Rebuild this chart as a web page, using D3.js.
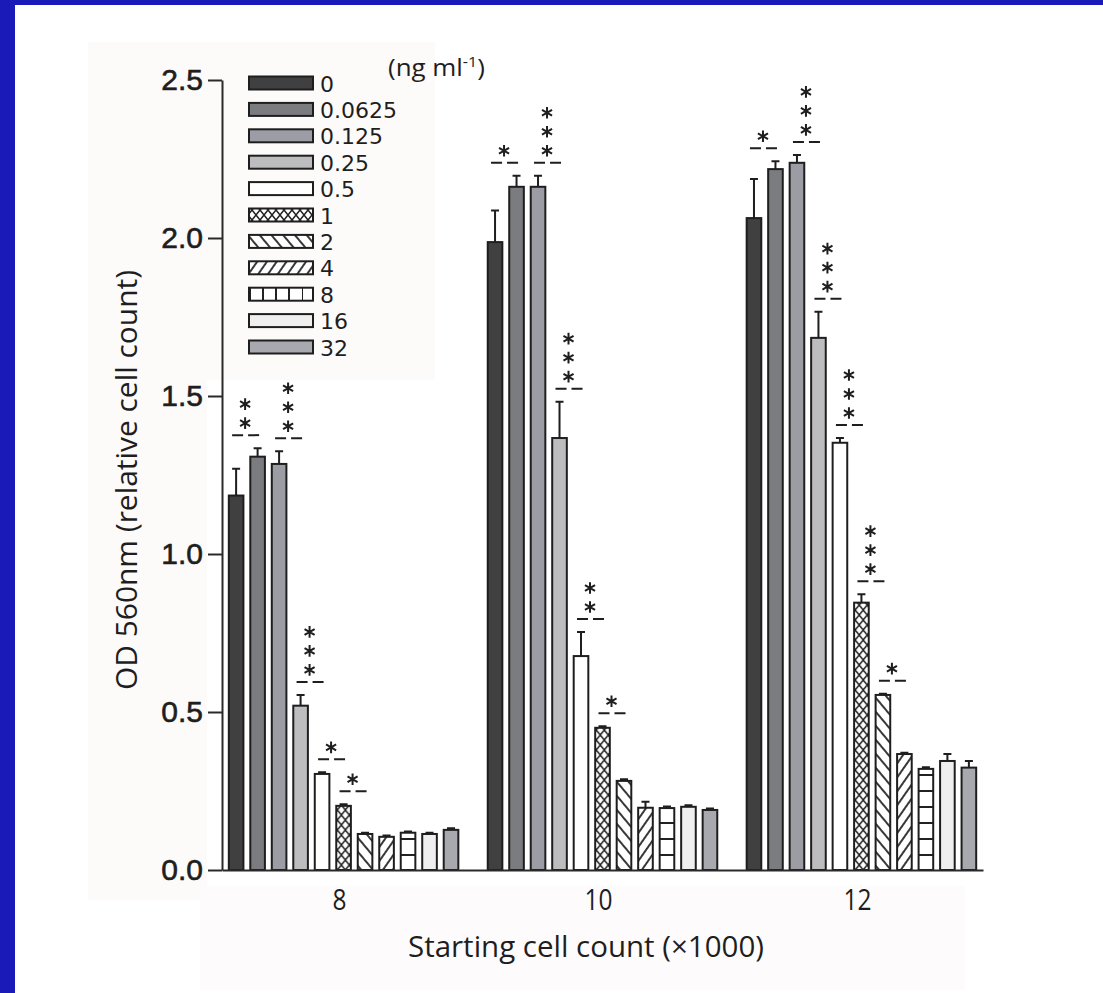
<!DOCTYPE html>
<meta charset="utf-8">
<style>
body { margin: 0; background: #1a1ab8; }
svg { display: block; }
.axis path, .axis line { stroke: #2a2a2a; stroke-width: 2; }
.axis text { fill: #1e1e1e; }
.bar { stroke: #1e1e1e; stroke-width: 2; }
.err, .sig { stroke: #1e1e1e; stroke-width: 2; fill: none; }
</style>
<body>
<svg width="1103" height="993"></svg>
<script src="https://d3js.org/d3.v7.min.js"></script>
<script>

// starting cell count groups (x1000) and doses (ng/ml)
var groups = ["8", "10", "12"];
var doses = ["0", "0.0625", "0.125", "0.25", "0.5", "1", "2", "4", "8", "16", "32"];

// OD 560nm means
var od8  = [1.185, 1.308, 1.285, 0.520, 0.304, 0.203, 0.114, 0.105, 0.118, 0.114, 0.127];
var od10 = [1.987, 2.162, 2.162, 1.367, 0.677, 0.450, 0.282, 0.197, 0.196, 0.200, 0.190];
var od12 = [2.063, 2.218, 2.238, 1.684, 1.352, 0.846, 0.554, 0.367, 0.320, 0.345, 0.324];

// upper error bars
var err8  = [0.085, 0.027, 0.040, 0.034, 0.005, 0.005, 0.004, 0.004, 0.004, 0.004, 0.005];
var err10 = [0.100, 0.035, 0.035, 0.115, 0.076, 0.005, 0.005, 0.019, 0.005, 0.005, 0.005];
var err12 = [0.124, 0.025, 0.025, 0.083, 0.015, 0.027, 0.004, 0.004, 0.005, 0.022, 0.021];

// number of significance stars per bar
var stars8  = [2, 0, 3, 3, 1, 1, 0, 0, 0, 0, 0];
var stars10 = [1, 0, 3, 3, 2, 1, 0, 0, 0, 0, 0];
var stars12 = [1, 0, 3, 3, 3, 3, 1, 0, 0, 0, 0];

var yTicks = [0, 0.5, 1.0, 1.5, 2.0, 2.5];

var means = [od8, od10, od12],
    errs = [err8, err10, err12],
    stars = [stars8, stars10, stars12];

var fills = ["#404040", "#7b7c7f", "#9b9ca4", "#bdbdc0", "#ffffff",
             "url(#cross)", "url(#back)", "url(#fwd)", "url(#hlines)", "#efefef", "#a8a9af"];
var legendFills = fills.slice();
legendFills[8] = "url(#vlines)";

var svg = d3.select("svg");

// slide background + white panel
svg.append("rect").attr("width", 1103).attr("height", 993).attr("fill", "#1a1ab8");
svg.append("rect").attr("x", 15).attr("y", 5).attr("width", 1088).attr("height", 988).attr("fill", "#ffffff");
// faint pasted patches
svg.append("rect").attr("x", 88).attr("y", 42).attr("width", 119).attr("height", 858).attr("fill", "#fdfafa");
svg.append("rect").attr("x", 207).attr("y", 42).attr("width", 228).attr("height", 338).attr("fill", "#fdfafa");
svg.append("rect").attr("x", 200).attr("y", 886).attr("width", 765).attr("height", 104).attr("fill", "#fdfbfb");

// patterns
var defs = svg.append("defs");

var p = defs.append("pattern").attr("id", "cross").attr("patternUnits", "userSpaceOnUse")
    .attr("width", 8).attr("height", 10);
p.append("rect").attr("width", 8).attr("height", 10).attr("fill", "#fff");
p.append("path").attr("d", "M0,0L8,10M8,0L0,10").attr("stroke", "#222").attr("stroke-width", 1.5);

p = defs.append("pattern").attr("id", "back").attr("patternUnits", "userSpaceOnUse")
    .attr("width", 9).attr("height", 9).attr("patternTransform", "rotate(-40)");
p.append("rect").attr("width", 9).attr("height", 9).attr("fill", "#fff");
p.append("line").attr("x1", 4).attr("x2", 4).attr("y1", 0).attr("y2", 9).attr("stroke", "#222").attr("stroke-width", 1.8);

p = defs.append("pattern").attr("id", "fwd").attr("patternUnits", "userSpaceOnUse")
    .attr("width", 8).attr("height", 8).attr("patternTransform", "rotate(35)");
p.append("rect").attr("width", 8).attr("height", 8).attr("fill", "#fff");
p.append("line").attr("x1", 4).attr("x2", 4).attr("y1", 0).attr("y2", 8).attr("stroke", "#222").attr("stroke-width", 1.8);

p = defs.append("pattern").attr("id", "hlines").attr("patternUnits", "userSpaceOnUse")
    .attr("width", 10).attr("height", 16).attr("y", 870);
p.append("rect").attr("width", 10).attr("height", 16).attr("fill", "#fff");
p.append("line").attr("x1", 0).attr("x2", 10).attr("y1", 1).attr("y2", 1).attr("stroke", "#222").attr("stroke-width", 2);

p = defs.append("pattern").attr("id", "vlines").attr("patternUnits", "userSpaceOnUse")
    .attr("width", 13).attr("height", 10).attr("x", 248);
p.append("rect").attr("width", 13).attr("height", 10).attr("fill", "#fff");
p.append("line").attr("x1", 1).attr("x2", 1).attr("y1", 0).attr("y2", 10).attr("stroke", "#222").attr("stroke-width", 2);

// scales
var x0 = d3.scaleBand().domain(groups).range([222, 983]).paddingInner(0.087).paddingOuter(0.013),
    x1 = d3.scaleBand().domain(doses).range([0, x0.bandwidth()]).paddingInner(0.32).paddingOuter(0.16),
    y = d3.scaleLinear().domain([0, 2.5]).range([870, 80]);

// bars
var gs = svg.selectAll(".group")
  .data(groups)
  .enter().append("g")
    .attr("class", "group")
    .attr("transform", function(d) { return "translate(" + x0(d) + ",0)"; });

gs.each(function(g, gi) {
  var grp = d3.select(this);
  var rows = doses.map(function(dose, i) {
    return {dose: dose, i: i, v: means[gi][i], e: errs[gi][i], s: stars[gi][i]};
  });

  // error bars first (under bar top)
  grp.selectAll(".err").data(rows).enter().append("path")
      .attr("class", "err")
      .attr("d", function(d) {
        var cx = x1(d.dose) + x1.bandwidth() / 2, t = y(d.v + d.e);
        return "M" + cx + "," + y(d.v) + "V" + t + "M" + (cx - 4) + "," + t + "H" + (cx + 4);
      });

  grp.selectAll(".bar").data(rows).enter().append("rect")
      .attr("class", "bar")
      .attr("x", function(d) { return x1(d.dose); })
      .attr("y", function(d) { return y(d.v); })
      .attr("width", x1.bandwidth())
      .attr("height", function(d) { return y(0) - y(d.v); })
      .attr("fill", function(d) { return fills[d.i]; });

  // significance marks
  rows.filter(function(d) { return d.s > 0; }).forEach(function(d) {
    var nxt = rows[d.i + 1];
    var top = Math.max(d.v + d.e, nxt ? nxt.v + nxt.e : 0);
    var ly = y(top) - 13;
    var cx = x1(d.dose) + x1.bandwidth() / 2 + 9;
    grp.append("line").attr("class", "sig")
        .attr("x1", cx - 13).attr("x2", cx + 14)
        .attr("y1", ly).attr("y2", ly)
        .attr("stroke-dasharray", "11,5");
    for (var k = 0; k < d.s; k++) {
      grp.append("path").attr("class", "sig")
          .attr("transform", "translate(" + cx + "," + (ly - 12 - k * 19) + ")")
          .attr("stroke-width", 2.2)
          .attr("d", d3.symbol(d3.symbolAsterisk, 95)());
    }
  });
});

// axes
var yAxis = svg.append("g")
    .attr("class", "axis")
    .attr("transform", "translate(222,0)")
    .call(d3.axisLeft(y).tickValues(yTicks).tickFormat(d3.format(".1f")).tickSize(14).tickSizeOuter(0).tickPadding(5));
yAxis.attr("font-family", "Liberation Sans, Arial, sans-serif").attr("font-size", 30);
yAxis.selectAll("text").attr("stroke", "#1e1e1e").attr("stroke-width", 0.6);

var xAxis = svg.append("g")
    .attr("class", "axis")
    .attr("transform", "translate(0,870)")
    .call(d3.axisBottom(x0).tickSize(0).tickSizeOuter(0).tickPadding(19));
xAxis.attr("font-family", "Open Sans, sans-serif").attr("font-size", 29);
xAxis.selectAll("text").attr("dx", -4).attr("textLength", function(d) { return d.length * 14; })
    .attr("lengthAdjust", "spacingAndGlyphs");

svg.append("text")
    .attr("x", 586).attr("y", 957)
    .attr("text-anchor", "middle")
    .attr("font-family", "Open Sans, sans-serif")
    .attr("font-size", 29)
    .attr("fill", "#1e1e1e")
    .attr("textLength", 356)
    .attr("lengthAdjust", "spacingAndGlyphs")
    .text("Starting cell count (\u00d71000)");

svg.append("text")
    .attr("transform", "translate(137,480) rotate(-90)")
    .attr("text-anchor", "middle")
    .attr("font-family", "Open Sans, sans-serif")
    .attr("font-size", 29)
    .attr("fill", "#1e1e1e")
    .attr("textLength", 420)
    .attr("lengthAdjust", "spacingAndGlyphs")
    .text("OD 560nm (relative cell count)");

// legend
var legend = svg.append("g").attr("class", "legend");
var rowsL = legend.selectAll("g")
  .data(doses)
  .enter().append("g")
    .attr("transform", function(d, i) { return "translate(248," + (83 + i * 26.4) + ")"; });

rowsL.append("rect")
    .attr("class", "bar")
    .attr("x", 1).attr("y", -6.5)
    .attr("width", 64).attr("height", 13)
    .attr("fill", function(d, i) { return legendFills[i]; });

rowsL.append("text")
    .attr("x", 72).attr("y", 8.5)
    .attr("font-family", "DejaVu Sans, sans-serif")
    .attr("font-size", 22)
    .attr("fill", "#1e1e1e")
    .text(function(d) { return d; });

var unit = svg.append("text")
    .attr("x", 388).attr("y", 76)
    .attr("font-family", "Open Sans, sans-serif")
    .attr("font-size", 24)
    .attr("fill", "#1e1e1e")
    .attr("textLength", 97)
    .attr("lengthAdjust", "spacingAndGlyphs");
unit.append("tspan").text("(ng ml");
unit.append("tspan").attr("font-size", 15).attr("dy", -9).text("-1");
unit.append("tspan").attr("dy", 9).text(")");

</script>
</body>
